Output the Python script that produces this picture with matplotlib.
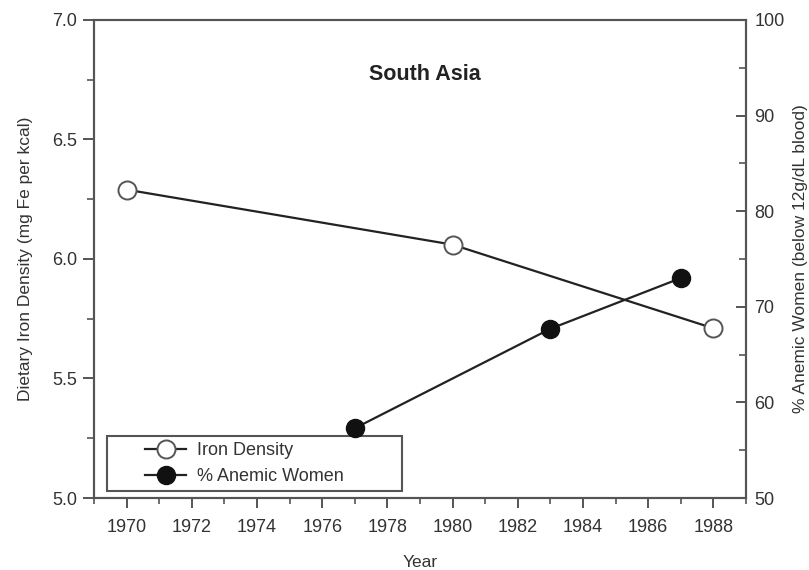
import matplotlib
matplotlib.use('Agg')
import matplotlib.pyplot as plt
from matplotlib.patches import Rectangle
from matplotlib.ticker import MultipleLocator

plt.rcParams['font.family'] = ['Liberation Sans', 'DejaVu Sans']

# ── dados ─────────────────────────────────────────────────────────────
ANOS_FERRO = [1970, 1980, 1988]
FERRO = [6.29, 6.06, 5.71]          # mg Fe por kcal
ANOS_ANEMIA = [1977, 1983, 1987]
ANEMIA = [57.3, 67.7, 73.0]         # % mulheres anêmicas

TXT = '#333333'
SPN = '#555555'

fig = plt.figure(figsize=(8.09, 5.70), dpi=100)
ax = fig.add_axes([0.1162, 0.1263, 0.8059, 0.8387])
ax2 = ax.twinx()

l1, = ax.plot(ANOS_FERRO, FERRO, color='#222222', lw=1.6, marker='o',
              ms=13, mfc='white', mec='#555555', mew=1.4, zorder=3,
              label='Iron Density')
l2, = ax2.plot(ANOS_ANEMIA, ANEMIA, color='#222222', lw=1.6, marker='o',
               ms=13, mfc='#111111', mec='#111111', zorder=3,
               label='% Anemic Women')

ax.set_xlim(1969, 1989)
ax.set_ylim(5.0, 7.0)
ax2.set_ylim(50, 100)
ax.xaxis.set_major_locator(MultipleLocator(2))
ax.xaxis.set_minor_locator(MultipleLocator(1))
ax.yaxis.set_major_locator(MultipleLocator(0.5))
ax.yaxis.set_minor_locator(MultipleLocator(0.25))
ax2.yaxis.set_major_locator(MultipleLocator(10))
ax2.yaxis.set_minor_locator(MultipleLocator(5))
ax.yaxis.set_major_formatter(plt.FormatStrFormatter('%.1f'))

for a in (ax, ax2):
    for s in a.spines.values():
        s.set_color(SPN)
        s.set_linewidth(1.5)

ax.tick_params(axis='x', which='major', direction='out', length=7, width=1.4,
               color=SPN, labelsize=13, labelcolor=TXT, pad=8)
ax.tick_params(axis='x', which='minor', direction='out', length=4, width=1.2,
               color=SPN)
ax.tick_params(axis='y', which='major', direction='out', length=8, width=1.4,
               color=SPN, labelsize=13, labelcolor=TXT, pad=4)
ax.tick_params(axis='y', which='minor', direction='out', length=5, width=1.2,
               color=SPN)
ax2.tick_params(axis='y', which='major', direction='in', length=7, width=1.4,
                color=SPN, labelsize=13, labelcolor=TXT, pad=6)
ax2.tick_params(axis='y', which='minor', direction='in', length=5, width=1.2,
                color=SPN)

ax.set_xlabel('Year', fontsize=12.5, color=TXT, labelpad=14)
ax.set_ylabel('Dietary Iron Density (mg Fe per kcal)', fontsize=12.5,
              color=TXT, labelpad=14)
ax2.set_ylabel('% Anemic Women (below 12g/dL blood)', fontsize=12.5,
               color=TXT, labelpad=6)

ax.text(0.508, 0.885, 'South Asia', transform=ax.transAxes, ha='center',
        va='center', fontsize=15.5, fontweight='bold', color='#222222')

# caixa da legenda desenhada à parte
ax2.add_patch(Rectangle((0.02, 0.0146), 0.452, 0.115, transform=ax.transAxes,
                        fill=False, edgecolor=SPN, lw=1.5, zorder=1))
leg = ax2.legend([l1, l2], ['Iron Density', '% Anemic Women'],
                 loc='center left', bbox_to_anchor=(0.078, 0.072),
                 frameon=False, borderpad=0, borderaxespad=0,
                 handlelength=2.3, handletextpad=0.6, fontsize=13,
                 labelcolor=TXT)

fig.savefig('out.png', dpi=100)
